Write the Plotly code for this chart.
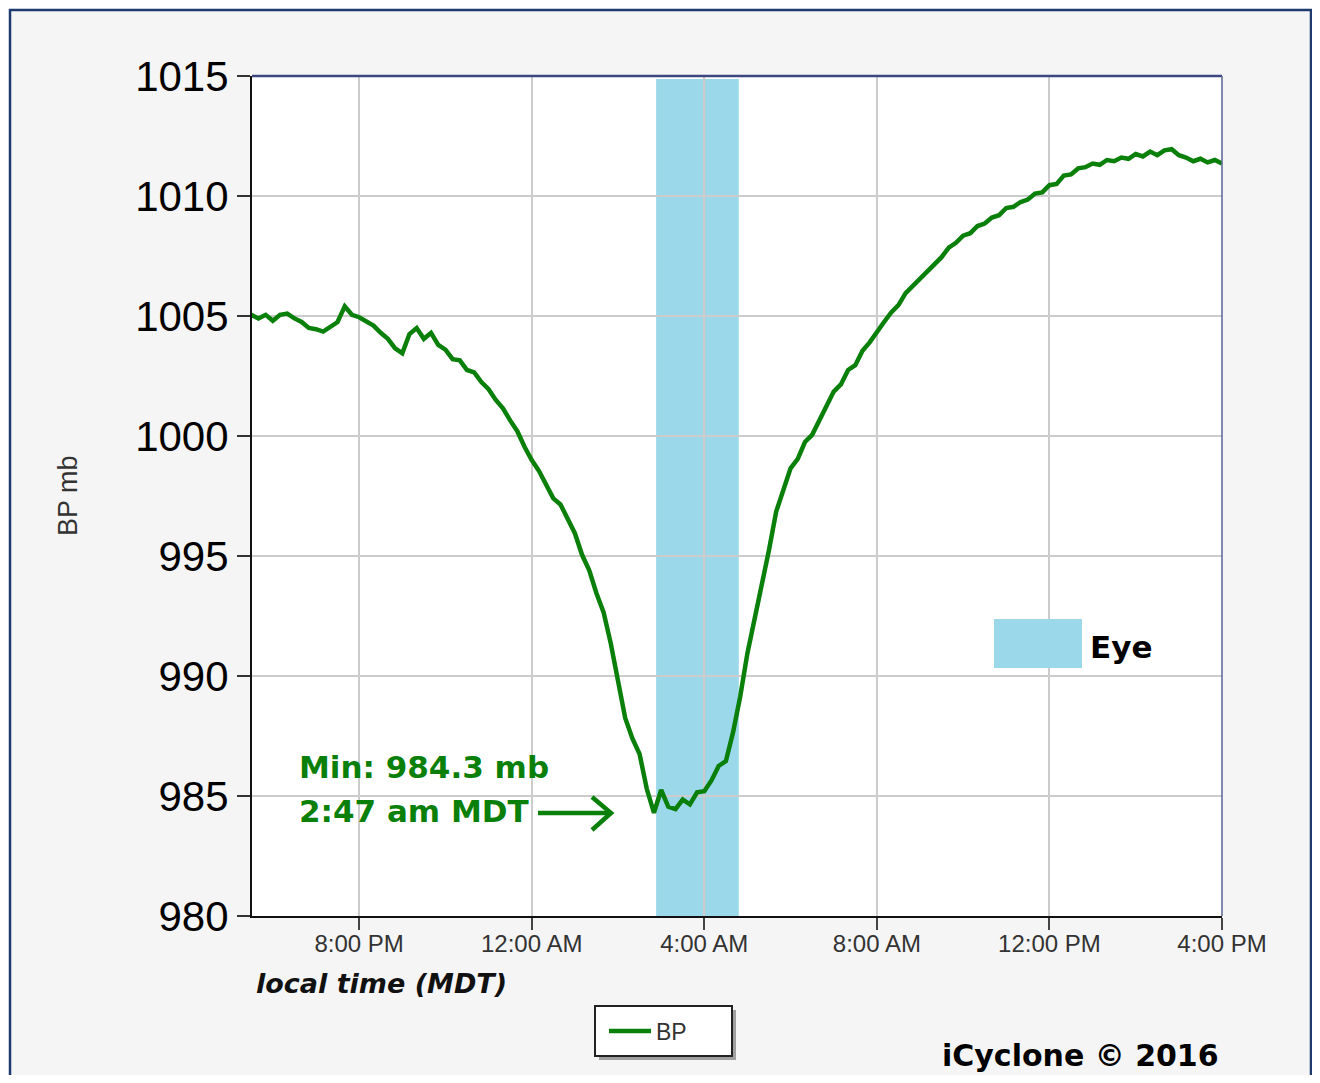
import plotly.graph_objects as go
import pandas as pd

# ---------------- data ----------------
start_time = "2016-09-05 17:30"   # first reading (10-minute interval)
bp = [
    1005.05, 1004.9, 1005.05, 1004.8, 1005.05, 1005.1, 1004.9, 1004.75, 1004.5, 1004.45,
    1004.35, 1004.55, 1004.75, 1005.4, 1005.05, 1004.95, 1004.75, 1004.6, 1004.3, 1004.05,
    1003.65, 1003.45, 1004.25, 1004.5, 1004.05, 1004.3, 1003.8, 1003.6, 1003.2, 1003.15,
    1002.75, 1002.65, 1002.25, 1001.95, 1001.5, 1001.15, 1000.65, 1000.2, 999.55, 999.0,
    998.55, 997.95, 997.4, 997.15, 996.55, 995.95, 995.05, 994.4, 993.45, 992.65,
    991.35, 989.75, 988.25, 987.4, 986.75, 985.3, 984.3, 985.25, 984.55, 984.45,
    984.85, 984.65, 985.15, 985.2, 985.65, 986.25, 986.45, 987.65, 989.15, 990.95,
    992.35, 993.85, 995.25, 996.85, 997.75, 998.65, 999.05, 999.75, 1000.05, 1000.65,
    1001.15, 1001.85, 1002.15, 1002.75, 1002.95, 1003.55, 1003.9, 1004.35, 1004.75, 1005.15,
    1005.45, 1005.95, 1006.25, 1006.6, 1006.85, 1007.2, 1007.45, 1007.85, 1008.05, 1008.35,
    1008.45, 1008.75, 1008.85, 1009.1, 1009.2, 1009.5, 1009.55, 1009.75, 1009.85, 1010.1,
    1010.15, 1010.45, 1010.5, 1010.85, 1010.9, 1011.15, 1011.2, 1011.35, 1011.3, 1011.5,
    1011.45, 1011.6, 1011.55, 1011.75, 1011.65, 1011.85, 1011.7, 1011.9, 1011.95, 1011.7,
    1011.6, 1011.45, 1011.55, 1011.4, 1011.5, 1011.35,
]
times = pd.date_range(start_time, periods=len(bp), freq="10min")

eye_start = "2016-09-06 02:53"
eye_end = "2016-09-06 04:48"
grid_4am = "2016-09-06 04:00"
x_range = ["2016-09-05 17:31", "2016-09-06 16:00"]
y_range = [980, 1015]
first_tick = "2016-09-05 20:00"
min_label = "Min: 984.3 mb"
min_time_label = "2:47 am MDT"

# ---------------- layout helpers ----------------
# page has an 8px body margin, so the figure is drawn 8px smaller on each side
BODY = 8
W, H = 1320 - 2 * BODY, 1083 - 2 * BODY
L, R, T, B = 252, 1222, 76, 916   # plot area in page pixels


def px(xp):
    return (xp - L) / (R - L)


def py(yp):
    return (B - yp) / (B - T)


GREEN = "#0a7f0a"
EYE = "#9bd8ea"
NAVY = "#1f3a6e"

fig = go.Figure()
fig.add_trace(go.Scatter(
    x=times, y=bp, mode="lines", name="BP",
    line=dict(color=GREEN, width=4.5),
))

shapes = []
# outer panel with navy border
shapes.append(dict(type="rect", xref="paper", yref="paper",
                   x0=px(10), x1=px(1311), y0=py(1200), y1=py(10),
                   fillcolor="#f5f5f5", line=dict(color=NAVY, width=2.5), layer="below"))
# white plot area
shapes.append(dict(type="rect", xref="paper", yref="paper", x0=0, x1=1, y0=0, y1=1,
                   fillcolor="white", line=dict(width=0), layer="below"))
# legend frame with shadow
shapes.append(dict(type="rect", xref="paper", yref="paper", x0=px(599), x1=px(736),
                   y0=py(1060), y1=py(1010), fillcolor="#a0a0a0", line=dict(width=0), layer="below"))
shapes.append(dict(type="rect", xref="paper", yref="paper", x0=px(595), x1=px(732),
                   y0=py(1056), y1=py(1006), fillcolor="white",
                   line=dict(color="#222222", width=2), layer="below"))
# eye band
shapes.append(dict(type="rect", xref="x", yref="paper", x0=eye_start, x1=eye_end,
                   y0=0, y1=py(79), fillcolor=EYE, line=dict(width=0), layer="between"))
# vertical grid line visible through the band
shapes.append(dict(type="line", xref="x", yref="paper", x0=grid_4am, x1=grid_4am,
                   y0=0, y1=py(79), line=dict(color="#bdbdbd", width=2), layer="between"))
# top and right plot borders
shapes.append(dict(type="line", xref="paper", yref="paper", x0=0, x1=1, y0=1, y1=1,
                   line=dict(color="#3c4780", width=2.5)))
shapes.append(dict(type="line", xref="paper", yref="paper", x0=1, x1=1, y0=0, y1=1,
                   line=dict(color="#5a6396", width=1.5)))
# Eye swatch
shapes.append(dict(type="rect", xref="paper", yref="paper", x0=px(994), x1=px(1082),
                   y0=py(668), y1=py(619), fillcolor=EYE, line=dict(width=0)))
# arrow
shapes.append(dict(type="path", xref="paper", yref="paper",
                   path=f"M {px(538)},{py(813)} L {px(611)},{py(813)}",
                   line=dict(color=GREEN, width=4.5)))
shapes.append(dict(type="path", xref="paper", yref="paper",
                   path=f"M {px(592)},{py(797)} L {px(611)},{py(813)} L {px(592)},{py(830)}",
                   line=dict(color=GREEN, width=4.5)))

annotations = [
    dict(text="BP mb", xref="paper", yref="paper", x=px(68), y=py(496), showarrow=False,
         textangle=-90, font=dict(family="Liberation Sans, Arial", size=27, color="#333333"),
         xanchor="center", yanchor="middle"),
    dict(text="<b><i>local time (MDT)</i></b>", xref="paper", yref="paper", x=px(254), y=py(983),
         showarrow=False, xanchor="left", yanchor="middle",
         font=dict(family="DejaVu Sans", size=27, color="#111111")),
    dict(text=f"<b>{min_label}</b>", xref="paper", yref="paper", x=px(297), y=py(767),
         showarrow=False, xanchor="left", yanchor="middle",
         font=dict(family="DejaVu Sans", size=31, color=GREEN)),
    dict(text=f"<b>{min_time_label}</b>", xref="paper", yref="paper", x=px(297), y=py(811),
         showarrow=False, xanchor="left", yanchor="middle",
         font=dict(family="DejaVu Sans", size=31, color=GREEN)),
    dict(text="<b>Eye</b>", xref="paper", yref="paper", x=px(1088), y=py(647),
         showarrow=False, xanchor="left", yanchor="middle",
         font=dict(family="DejaVu Sans", size=31, color="#000000")),
    dict(text="<b>iCyclone © 2016</b>", xref="paper", yref="paper", x=px(1221), y=py(1075),
         showarrow=False, xanchor="right", yanchor="bottom",
         font=dict(family="DejaVu Sans", size=30, color="#000000")),
]

fig.update_layout(
    width=W, height=H, autosize=False,
    margin=dict(l=L - BODY, r=W - (R - BODY), t=T - BODY, b=H - (B - BODY), pad=0),
    paper_bgcolor="white", plot_bgcolor="white",
    shapes=shapes, annotations=annotations,
    showlegend=True,
    legend=dict(x=px(604), y=py(1031), xanchor="left", yanchor="middle", orientation="h",
                bgcolor="rgba(0,0,0,0)", borderwidth=0,
                font=dict(family="Liberation Sans, Arial", size=23, color="#333333"),
                itemwidth=42),
    xaxis=dict(
        type="date", range=x_range, tick0=first_tick, dtick=4 * 3600 * 1000,
        tickformat="%-I:%M %p", showgrid=True, gridcolor="#cccccc", gridwidth=2,
        showline=True, linecolor="#111111", linewidth=2,
        ticks="outside", ticklen=12, tickwidth=1.5, tickcolor="#444444",
        ticklabelstandoff=-7,
        tickfont=dict(family="Liberation Sans, Arial", size=24, color="#333333"),
        zeroline=False,
    ),
    yaxis=dict(
        range=y_range, dtick=5, tick0=980, showgrid=True, gridcolor="#cccccc", gridwidth=2,
        showline=True, linecolor="#111111", linewidth=2,
        ticks="outside", ticklen=13, tickwidth=1.5, tickcolor="#333333",
        ticklabelstandoff=0,
        tickfont=dict(family="Liberation Sans, Arial", size=42, color="#000000"),
        zeroline=False,
    ),
)

fig.write_html("out.html")
